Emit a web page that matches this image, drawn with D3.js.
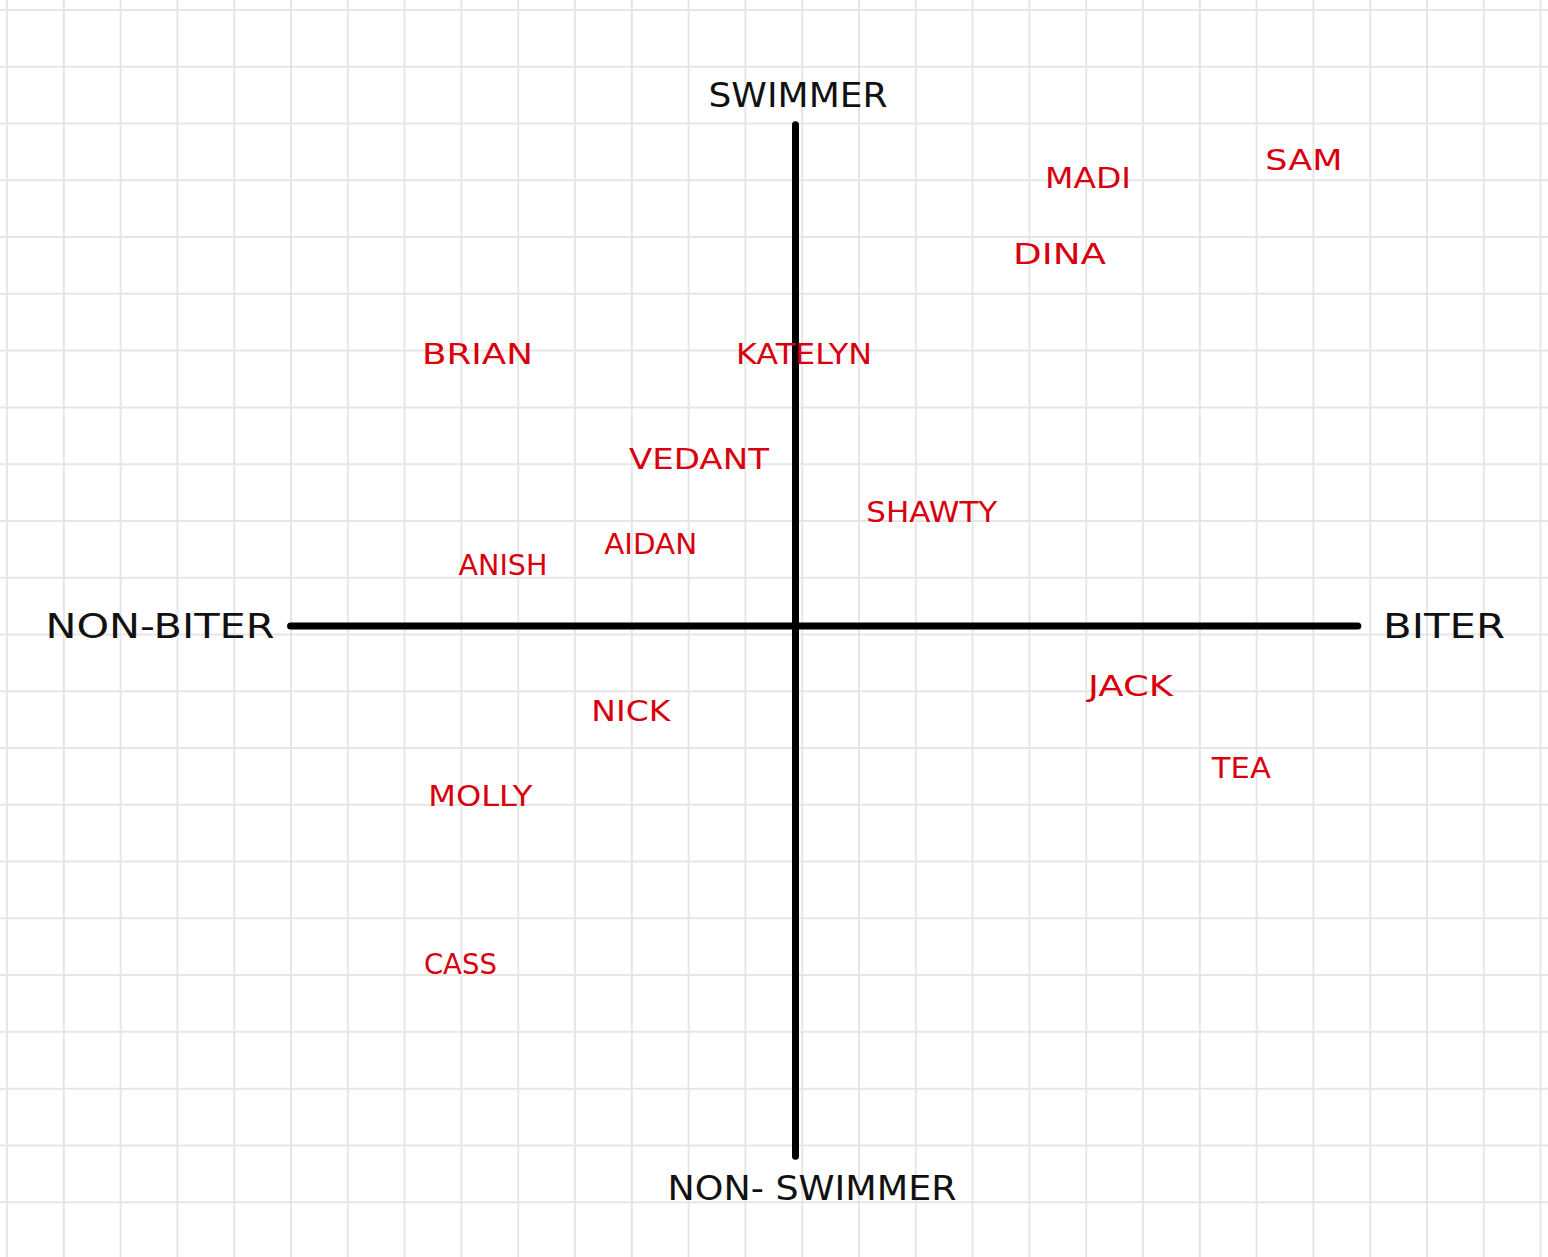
<!DOCTYPE html>
<html>
<head>
<meta charset="utf-8">
<script src="https://cdn.jsdelivr.net/npm/d3@7"></script>
<style>
  html, body { margin: 0; padding: 0; background: #fff; }
  svg { display: block; }
</style>
</head>
<body>
<div id="chartArea"></div>
<script>
// people placed on the quadrant (x: biter, y: swimmer), in grid squares from the centre
var names   = ['SAM', 'MADI', 'DINA', 'BRIAN', 'KATELYN', 'VEDANT', 'SHAWTY',
               'AIDAN', 'ANISH', 'JACK', 'NICK', 'TEA', 'MOLLY', 'CASS'];
var biter   = [8.95, 5.15, 4.65, -5.6, 0.15, -1.7, 2.4, -2.55, -5.15, 5.9, -2.9, 7.85, -5.55, -5.9];
var swimmer = [8.2, 7.9, 6.55, 4.8, 4.8, 2.95, 2.0, 1.45, 1.08, -1.05, -1.5, -2.5, -3.0, -5.95];
var nameWidths = [77, 86, 93, 111, 136, 140, 131, 93, 89, 85, 79, 59, 104, 73];

// axis extents (grid squares) and axis titles
var xExtent = [-8.89, 9.9];
var yExtent = [-9.34, 8.83];
var axisTitles = ['SWIMMER', 'NON- SWIMMER', 'NON-BITER', 'BITER'];

var width = 1548, height = 1257;
var cell = 56.8;

var svg = d3.select('#chartArea').append('svg')
    .attr('width', width)
    .attr('height', height);

svg.append('rect')
    .attr('width', width)
    .attr('height', height)
    .attr('fill', '#ffffff');

// graph paper
var gx = d3.scaleLinear().domain([0, 1]).range([7, 7 + cell]);
var gy = d3.scaleLinear().domain([0, 1]).range([10, 10 + 56.77]);
svg.append('g').selectAll('line').data(d3.range(0, 28)).enter().append('line')
    .attr('x1', function(d) { return gx(d); })
    .attr('x2', function(d) { return gx(d); })
    .attr('y1', 0).attr('y2', height)
    .attr('stroke', '#e6e6e6').attr('stroke-width', 2);
svg.append('g').selectAll('line').data(d3.range(0, 23)).enter().append('line')
    .attr('y1', function(d) { return gy(d); })
    .attr('y2', function(d) { return gy(d); })
    .attr('x1', 0).attr('x2', width)
    .attr('stroke', '#e6e6e6').attr('stroke-width', 2);

// quadrant scales, origin where the two axes cross
var x = d3.scaleLinear().domain([0, 1]).range([795.5, 795.5 + cell]);
var y = d3.scaleLinear().domain([0, 1]).range([626, 626 - 56.77]);

svg.append('line')
    .attr('x1', x(xExtent[0])).attr('x2', x(xExtent[1]))
    .attr('y1', y(0)).attr('y2', y(0))
    .attr('stroke', '#000').attr('stroke-width', 7).attr('stroke-linecap', 'round');
svg.append('line')
    .attr('x1', x(0)).attr('x2', x(0))
    .attr('y1', y(yExtent[0])).attr('y2', y(yExtent[1]))
    .attr('stroke', '#000').attr('stroke-width', 7).attr('stroke-linecap', 'round');

// axis titles
var font = "'DejaVu Sans', sans-serif";
var titles = [
    {t: axisTitles[0], cx: 798, cy: 95, w: 179},
    {t: axisTitles[1], cx: 812, cy: 1188, w: 289},
    {t: axisTitles[2], cx: 160, cy: 626, w: 229},
    {t: axisTitles[3], cx: 1444, cy: 626, w: 122}
];
svg.append('g').selectAll('text').data(titles).enter().append('text')
    .attr('x', function(d) { return d.cx; })
    .attr('y', function(d) { return d.cy; })
    .attr('text-anchor', 'middle')
    .attr('dominant-baseline', 'central')
    .attr('textLength', function(d) { return d.w; })
    .attr('lengthAdjust', 'spacingAndGlyphs')
    .style('font-family', font)
    .style('font-size', '34px')
    .style('fill', '#111')
    .text(function(d) { return d.t; });

// names
var data = names.map(function(n, i) {
    return {name: n, bx: biter[i], sy: swimmer[i], w: nameWidths[i]};
});
svg.append('g').selectAll('text').data(data).enter().append('text')
    .attr('x', function(d) { return x(d.bx); })
    .attr('y', function(d) { return y(d.sy); })
    .attr('text-anchor', 'middle')
    .attr('dominant-baseline', 'central')
    .attr('textLength', function(d) { return d.w; })
    .attr('lengthAdjust', 'spacingAndGlyphs')
    .style('font-family', font)
    .style('font-size', '29px')
    .style('fill', '#d9000d')
    .text(function(d) { return d.name; });
</script>
</body>
</html>
